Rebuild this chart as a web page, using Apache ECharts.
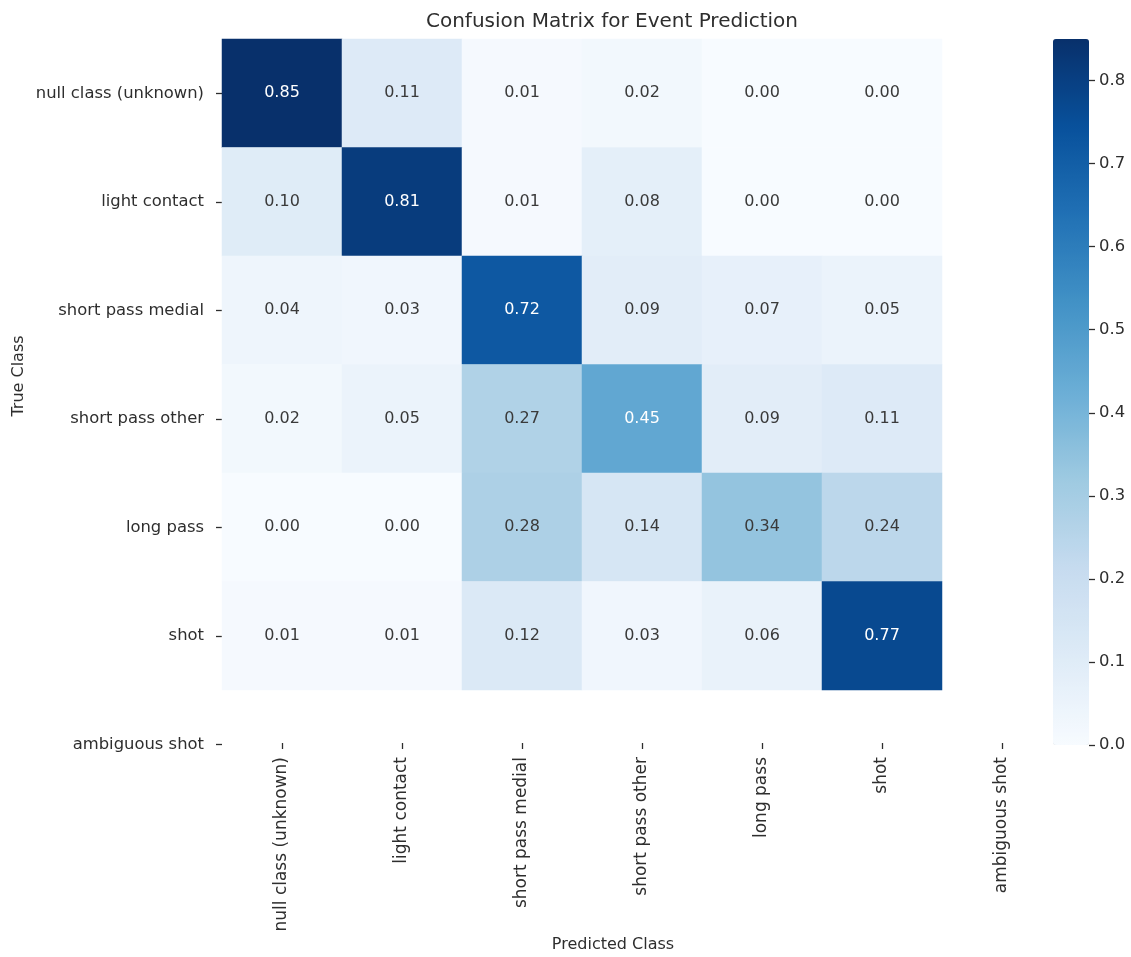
<!DOCTYPE html>
<html>
<head>
<meta charset="utf-8">
<title>Confusion Matrix for Event Prediction</title>
<script src="https://cdn.jsdelivr.net/npm/echarts@6/dist/echarts.min.js"></script>
<style>
  html, body { margin: 0; padding: 0; background: #ffffff; }
  #chart { width: 1131px; height: 957px; }
</style>
</head>
<body>
<div id="chart"></div>
<script>
// Class names shared by both axes (the last class has no rows/columns of data)
const classNames = [
  'null class (unknown)',
  'light contact',
  'short pass medial',
  'short pass other',
  'long pass',
  'shot',
  'ambiguous shot'
];

// Normalised confusion matrix rows (true class) over predicted classes
const rowNullClass        = [0.85, 0.11, 0.01, 0.02, 0.00, 0.00];
const rowLightContact     = [0.10, 0.81, 0.01, 0.08, 0.00, 0.00];
const rowShortPassMedial  = [0.04, 0.03, 0.72, 0.09, 0.07, 0.05];
const rowShortPassOther   = [0.02, 0.05, 0.27, 0.45, 0.09, 0.11];
const rowLongPass         = [0.00, 0.00, 0.28, 0.14, 0.34, 0.24];
const rowShot             = [0.01, 0.01, 0.12, 0.03, 0.06, 0.77];

// Colour bar tick values
const colorbarTicks = [0.0, 0.1, 0.2, 0.3, 0.4, 0.5, 0.6, 0.7, 0.8];

const matrixRows = [
  rowNullClass, rowLightContact, rowShortPassMedial,
  rowShortPassOther, rowLongPass, rowShot
];

const valueMax = Math.max(...matrixRows.flat());

// Matplotlib "Blues" colour map
const blues = ['#f7fbff', '#deebf7', '#c6dbef', '#9ecae1', '#6baed6',
               '#4292c6', '#2171b5', '#08519c', '#08306b'];

const FONT = 'DejaVu Sans';
const TEXT = '#2e2e2e';

const cells = [];
matrixRows.forEach((row, r) => {
  row.forEach((v, c) => {
    cells.push({
      value: [c, r, v],
      label: { color: v >= 0.4 ? '#ffffff' : '#3a3a3a' }
    });
  });
});

const chart = echarts.init(document.getElementById('chart'), null, { renderer: 'canvas' });

const option = {
  backgroundColor: '#ffffff',
  animation: false,
  grid: [
    { left: 222, top: 39, width: 840, height: 759.5 },
    { left: 1053, top: 39, width: 36, height: 706 }
  ],
  xAxis: [
    {
      type: 'category',
      gridIndex: 0,
      data: classNames,
      position: 'bottom',
      offset: -55.5,
      axisLine: { show: false },
      axisTick: { show: true, alignWithLabel: true, length: 6, lineStyle: { color: TEXT, width: 1.3 } },
      axisLabel: {
        interval: 0, rotate: 90, margin: 14,
        fontFamily: FONT, fontSize: 17, color: TEXT
      },
      splitLine: { show: false }
    },
    {
      // placeholder axis for the colour bar grid
      type: 'category',
      gridIndex: 1,
      data: [''],
      show: false
    }
  ],
  yAxis: [
    {
      type: 'category',
      gridIndex: 0,
      data: classNames,
      inverse: true,
      axisLine: { show: false },
      axisTick: { show: true, alignWithLabel: true, length: 6, lineStyle: { color: TEXT, width: 1.3 } },
      axisLabel: {
        interval: 0, margin: 18,
        fontFamily: FONT, fontSize: 16.4, color: TEXT
      },
      splitLine: { show: false }
    },
    {
      // scale of the colour bar
      type: 'value',
      gridIndex: 1,
      position: 'right',
      min: 0,
      max: valueMax,
      axisLine: { show: false, onZero: false },
      axisTick: {
        show: true, inside: false, length: 6,
        customValues: colorbarTicks,
        lineStyle: { color: TEXT, width: 1.3 }
      },
      axisLabel: {
        margin: 10, customValues: colorbarTicks,
        formatter: (v) => v.toFixed(1),
        fontFamily: FONT, fontSize: 16.4, color: TEXT
      },
      splitLine: { show: false }
    }
  ],
  visualMap: {
    type: 'continuous',
    seriesIndex: 0,
    dimension: 2,
    min: 0,
    max: valueMax,
    calculable: false,
    orient: 'vertical',
    left: 1053,
    top: 39,
    padding: 0,
    itemWidth: 36,
    itemHeight: 706,
    text: null,
    showLabel: false,
    inRange: { color: blues }
  },
  graphic: [
    {
      type: 'text',
      style: {
        x: 612, y: 22, text: 'Confusion Matrix for Event Prediction',
        font: '20px "DejaVu Sans"', fill: TEXT,
        textAlign: 'center', textVerticalAlign: 'middle'
      }
    },
    {
      type: 'text',
      x: 19, y: 376, rotation: Math.PI / 2,
      style: {
        x: 0, y: 0, text: 'True Class',
        font: '16px "DejaVu Sans"', fill: TEXT,
        textAlign: 'center', textVerticalAlign: 'middle'
      }
    },
    {
      type: 'text',
      style: {
        x: 613, y: 945, text: 'Predicted Class',
        font: '16px "DejaVu Sans"', fill: TEXT,
        textAlign: 'center', textVerticalAlign: 'middle'
      }
    }
  ],
  series: [
    {
      type: 'heatmap',
      xAxisIndex: 0,
      yAxisIndex: 0,
      data: cells,
      label: {
        show: true,
        fontFamily: FONT,
        fontSize: 16,
        formatter: (p) => p.value[2].toFixed(2)
      },
      itemStyle: { borderWidth: 0 },
      emphasis: { disabled: true }
    }
  ]
};

chart.setOption(option);
</script>
</body>
</html>
